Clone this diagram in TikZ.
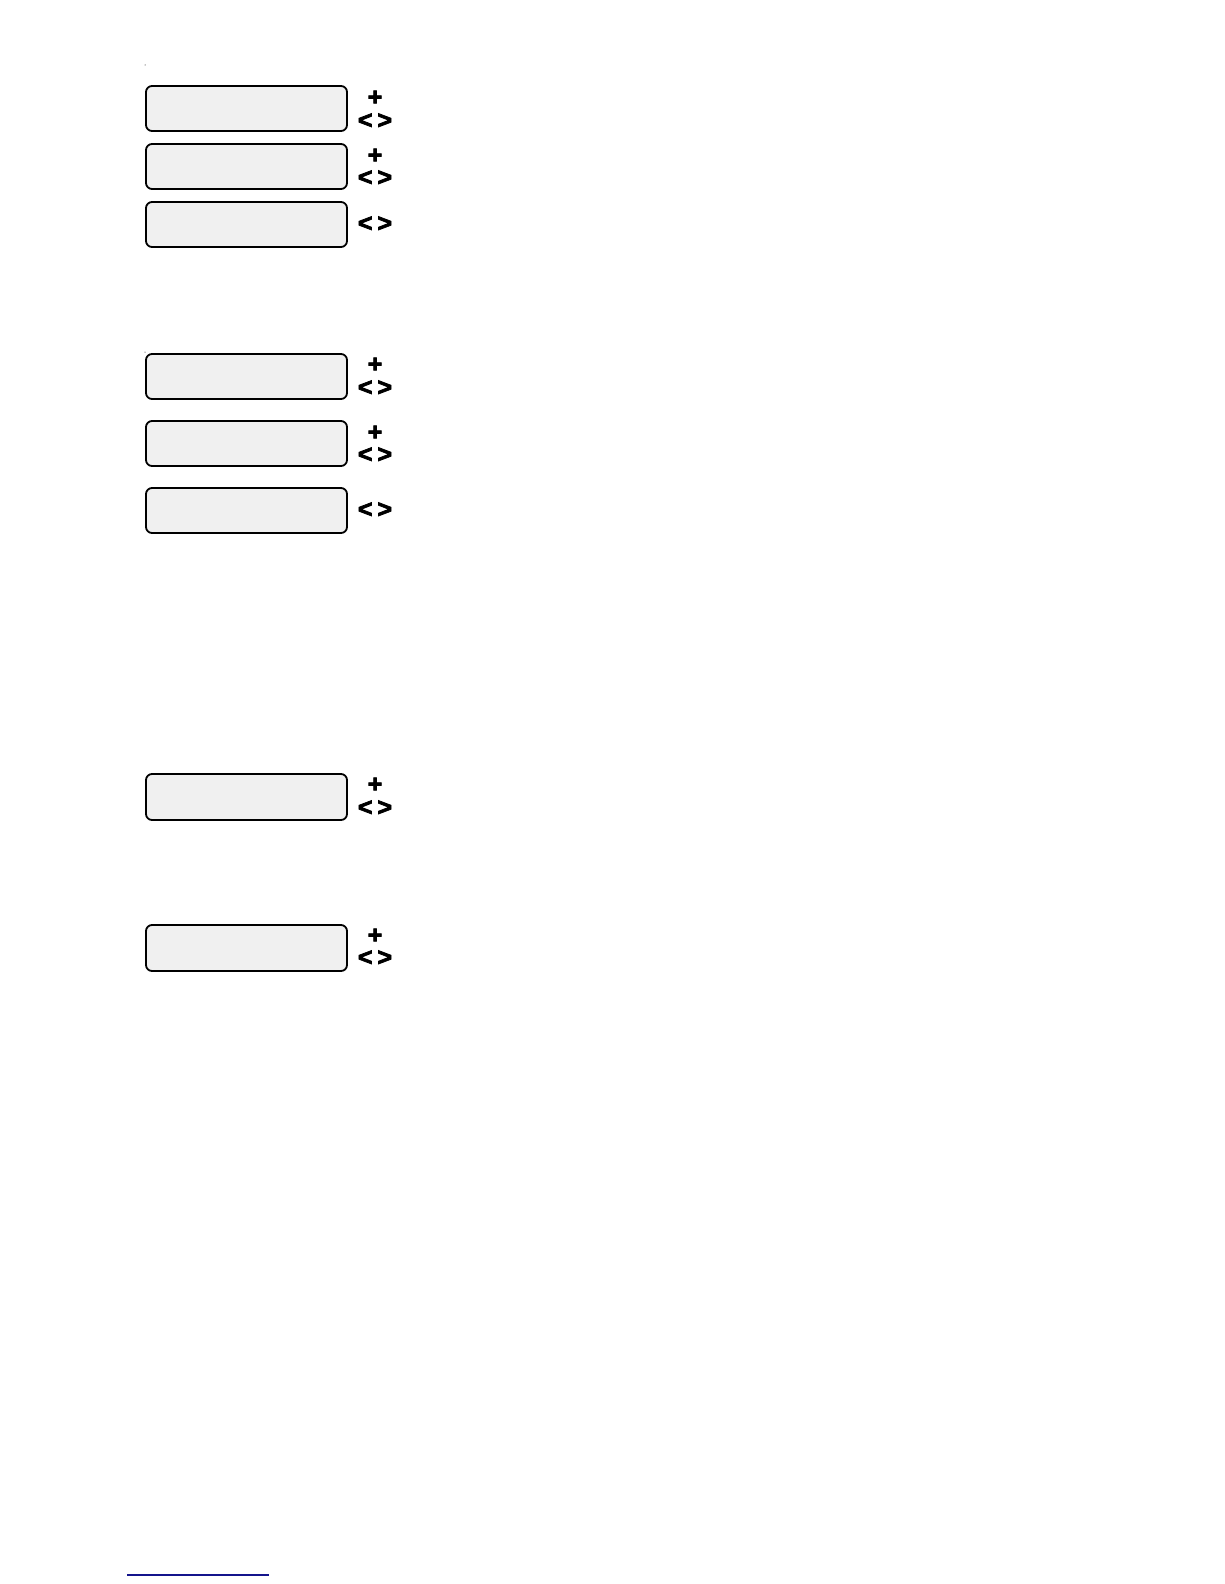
\documentclass[tikz,border=0pt]{standalone}
\usepackage{fontspec}
\setmainfont{Liberation Sans}
\newfontfamily\heavy[BoldFeatures={FakeBold=3}]{Liberation Sans}
\begin{document}
\begin{tikzpicture}[x=1pt,y=-1pt,
  lcd/.style={draw=black,line width=1.8pt,fill=gray!12,rounded corners=6pt},
  sym/.style={font=\heavy\bfseries\fontsize{25}{25}\selectfont,inner sep=0pt,text=black}]
\useasboundingbox[fill=white] (0,0) rectangle (1224,1584);
% tiny dots
\fill[black] (145,65) circle (0.5);
\fill[black] (145,352) circle (0.5);
% boxes
\draw[lcd] (146,86) rectangle (347,131);
\draw[lcd] (146,144) rectangle (347,189);
\draw[lcd] (146,202) rectangle (347,247);
\draw[lcd] (146,354) rectangle (347,399);
\draw[lcd] (146,421) rectangle (347,466);
\draw[lcd] (146,488) rectangle (347,533);
\draw[lcd] (146,774) rectangle (347,820);
\draw[lcd] (146,925) rectangle (347,971);
% symbols
\node[sym] (p1) at (375,98) {+};
\node[sym] (a1) at (375,121) {<\kern5pt>};
\node[sym] (p2) at (375,156) {+};
\node[sym] (a2) at (375,178) {<\kern5pt>};
\node[sym] (a3) at (375,224) {<\kern5pt>};
\node[sym] (p4) at (375,365) {+};
\node[sym] (a4) at (375,388) {<\kern5pt>};
\node[sym] (p5) at (375,433) {+};
\node[sym] (a5) at (375,455) {<\kern5pt>};
\node[sym] (a6) at (375,510) {<\kern5pt>};
\node[sym] (p7) at (375,785) {+};
\node[sym] (a7) at (375,808) {<\kern5pt>};
\node[sym] (p8) at (375,936) {+};
\node[sym] (a8) at (375,958) {<\kern5pt>};
% bottom line
\draw[color={rgb,255:red,20;green,20;blue,140},line width=1.3pt] (127,1575) -- (269,1575);
\end{tikzpicture}
\end{document}
